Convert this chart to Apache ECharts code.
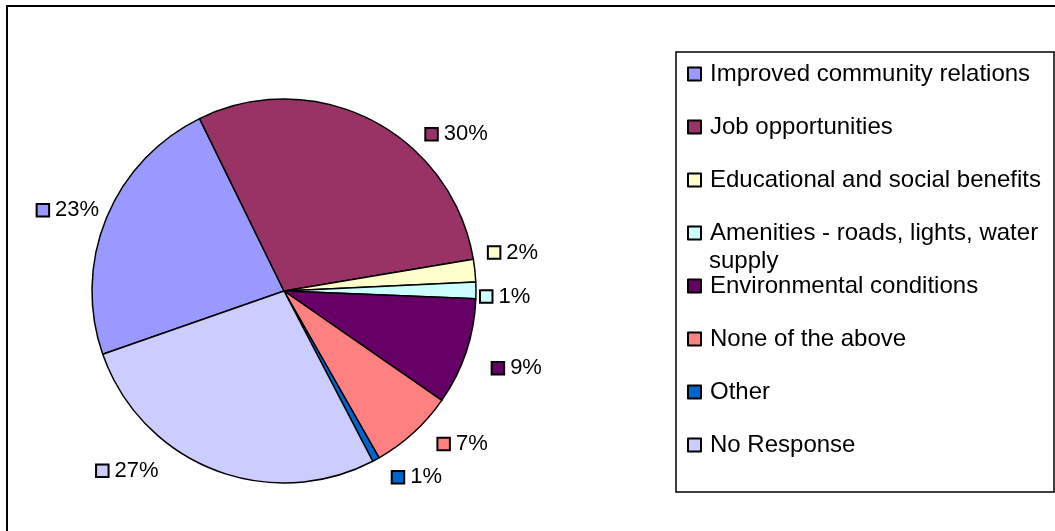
<!DOCTYPE html>
<html>
<head>
<meta charset="utf-8">
<title>Perceived benefits</title>
<script src="https://cdn.jsdelivr.net/npm/echarts@6/dist/echarts.min.js"></script>
<style>
  html, body { margin: 0; padding: 0; background: #fff; }
  #chart { width: 1055px; height: 531px; }
</style>
</head>
<body>
<div id="chart"></div>
<script>
// Survey answers, in drawing order (clockwise from the first slice)
const categories = [
  'Improved community relations',
  'Job opportunities',
  'Educational and social benefits',
  'Amenities - roads, lights, water supply',
  'Environmental conditions',
  'None of the above',
  'Other',
  'No Response'
];
// Share of respondents, percent
const shares = [23.1, 29.6, 1.9, 1.4, 9.0, 7.1, 0.6, 27.3];
const sliceColors = ['#9999FF', '#993366', '#FFFFCC', '#CCFFFF', '#660066', '#FF8080', '#0066CC', '#CCCCFF'];

// small [dx, dy] shifts that spread the value labels away from the rim
const labelNudge = [[4, -4], [48, 23], [4, -17], [-5, 3], [17, 13], [17, 4], [10, 9], [-49, -8]];

const FONT = '"Liberation Sans", Arial, Helvetica, sans-serif';

// rich styles: one coloured key box per slice, then the value text
const rich = {
  v: { fontFamily: FONT, fontSize: 22, color: '#000', padding: [0, 0, 0, 7], verticalAlign: 'middle' }
};
sliceColors.forEach((c, i) => {
  rich['m' + i] = { width: 10.5, height: 10.5, backgroundColor: c, borderColor: '#000', borderWidth: 2, verticalAlign: 'middle' };
});

const chart = echarts.init(document.getElementById('chart'), null, { renderer: 'canvas' });

const option = {
  animation: false,
  backgroundColor: '#fff',
  color: sliceColors,
  graphic: [
    // outer chart frame
    { type: 'rect', shape: { x: 7, y: 6, width: 1100, height: 600 },
      style: { fill: 'none', stroke: '#000', lineWidth: 2 }, silent: true },
    // legend frame
    { type: 'rect', shape: { x: 676, y: 52, width: 378, height: 440 },
      style: { fill: 'none', stroke: '#000', lineWidth: 1.5 }, silent: true },
    // wrapped second line of the long legend entry
    { type: 'text', left: 709, top: 249,
      style: { text: 'supply', font: '24px ' + FONT, fill: '#000' }, silent: true }
  ],
  legend: {
    orient: 'vertical',
    left: 682,
    top: 57,
    itemWidth: 13,
    itemHeight: 13,
    itemGap: 29,
    icon: 'rect',
    itemStyle: { borderColor: '#000', borderWidth: 2 },
    selectedMode: false,
    formatter: name => name === categories[3] ? 'Amenities - roads, lights, water' : name,
    textStyle: { fontFamily: FONT, fontSize: 24, color: '#000', lineHeight: 24, padding: [0, 0, 0, 4] },
    data: categories
  },
  series: [{
    type: 'pie',
    center: [284, 291],
    radius: 192,
    startAngle: 199.25,
    clockwise: true,
    avoidLabelOverlap: true,
    itemStyle: { borderColor: '#000', borderWidth: 1.5 },
    emphasis: { disabled: true },
    label: {
      show: true,
      position: 'outside',
      distanceToLabelLine: 2,
      formatter: p => '{m' + p.dataIndex + '|}{v|' + Math.round(p.percent) + '%}',
      rich: rich
    },
    labelLine: { show: false, length: 10, length2: 0 },
    labelLayout: p => ({ dx: labelNudge[p.dataIndex][0], dy: labelNudge[p.dataIndex][1] }),
    data: categories.map((name, i) => ({ name: name, value: shares[i] }))
  }]
};

chart.setOption(option);
</script>
</body>
</html>
